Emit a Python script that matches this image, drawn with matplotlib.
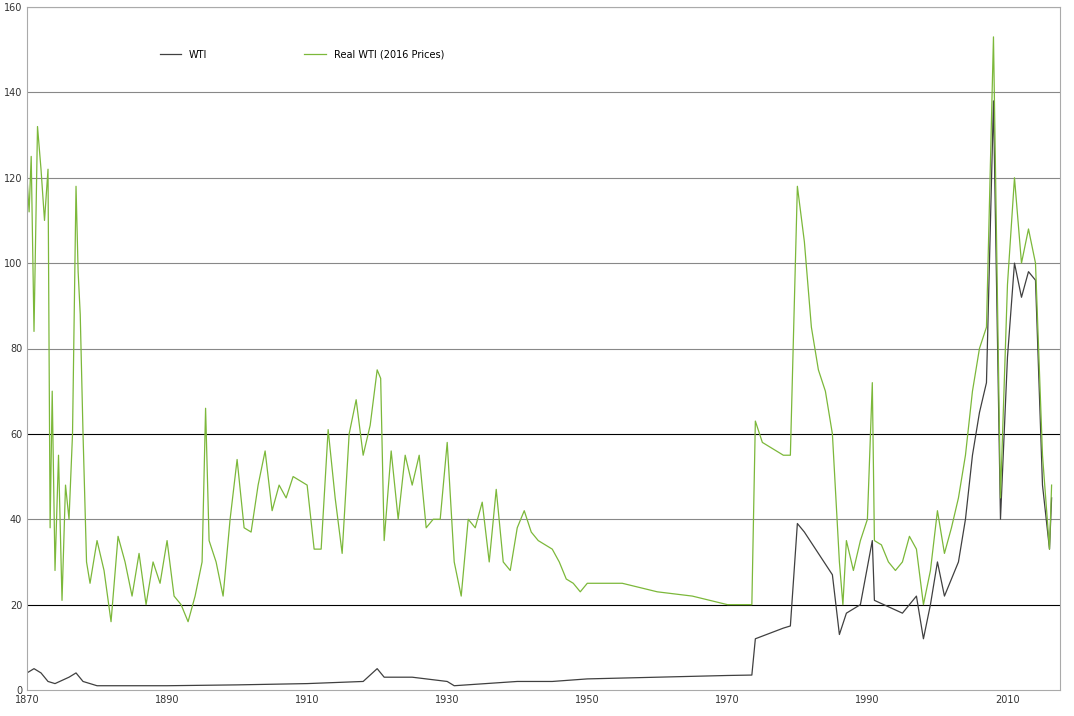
import matplotlib
matplotlib.use("Agg")
import matplotlib.pyplot as plt

real_years = [1870,1870.3,1870.6,1871,1871.5,1872,1872.5,1873,1873.3,1873.6,1874,1874.5,1875,1875.5,1876,1876.5,1877,1877.3,1877.6,1878,1878.5,1879,1880,1881,1882,1883,1884,1885,1886,1887,1888,1889,1890,1891,1892,1893,1894,1895,1895.5,1896,1897,1898,1899,1900,1901,1902,1903,1904,1905,1906,1907,1908,1909,1910,1911,1912,1913,1914,1915,1916,1917,1918,1919,1920,1920.5,1921,1922,1923,1924,1925,1926,1927,1928,1929,1930,1931,1932,1933,1934,1935,1936,1937,1938,1939,1940,1941,1942,1943,1944,1945,1946,1947,1948,1949,1950,1955,1960,1965,1970,1973,1973.5,1974,1975,1976,1977,1978,1979,1980,1981,1982,1983,1984,1985,1986,1986.5,1987,1988,1989,1990,1990.7,1991,1992,1993,1994,1995,1996,1997,1998,1999,2000,2001,2002,2003,2004,2005,2006,2007,2008,2009,2010,2011,2012,2013,2014,2015,2016,2016.3]
real_vals = [120,112,125,84,132,122,110,122,38,70,28,55,21,48,40,60,118,98,88,60,30,25,35,28,16,36,30,22,32,20,30,25,35,22,20,16,22,30,66,35,30,22,40,54,38,37,48,56,42,48,45,50,49,48,33,33,61,45,32,60,68,55,62,75,73,35,56,40,55,48,55,38,40,40,58,30,22,40,38,44,30,47,30,28,38,42,37,35,34,33,30,26,25,23,25,25,23,22,20,20,20,63,58,57,56,55,55,118,105,85,75,70,60,30,20,35,28,35,40,72,35,34,30,28,30,36,33,20,28,42,32,38,45,55,70,80,85,153,45,95,120,100,108,100,55,33,48]

nom_years = [1870,1871,1872,1873,1874,1876,1877,1878,1880,1890,1900,1910,1918,1920,1921,1925,1930,1931,1940,1945,1950,1970,1973.5,1974,1978,1979,1980,1981,1983,1985,1986,1987,1989,1990.7,1991,1995,1997,1998,1999,2000,2001,2002,2003,2004,2005,2006,2007,2008,2009,2010,2011,2012,2013,2014,2015,2016,2016.3]
nom_vals = [4,5,4,2,1.5,3,4,2,1,1,1.2,1.5,2,5,3,3,2,1,2,2,2.6,3.4,3.5,12,14.5,15,39,37,32,27,13,18,20,35,21,18,22,12,20,30,22,26,30,40,55,65,72,138,40,78,100,92,98,96,48,33,45]

fig = plt.figure(figsize=(10.74, 7.16), dpi=100)
ax = fig.add_axes([27/1074, 26/716, 1033/1074, 683/716])
ax.plot(nom_years, nom_vals, color="#404040", lw=0.9, label="WTI")
ax.plot(real_years, real_vals, color="#7cb83a", lw=0.9, label="Real WTI (2016 Prices)")
ax.set_xlim(1870, 2017.5)
ax.set_ylim(0, 160)
ax.set_xticks(range(1870, 2011, 20))
ax.set_yticks(range(0, 161, 20))
ax.tick_params(labelsize=7, length=0, colors="#333333")
for y in range(20, 161, 20):
    ax.axhline(y, color="black" if y in (20, 60) else "#888888", lw=0.8, zorder=0)
for s in ax.spines.values():
    s.set_color("#aaaaaa")
ax.legend(loc="upper left", bbox_to_anchor=(0.12, 0.95), ncol=2, frameon=False,
          fontsize=7, columnspacing=10, handlelength=2.2)
fig.savefig("out.png", dpi=100)
